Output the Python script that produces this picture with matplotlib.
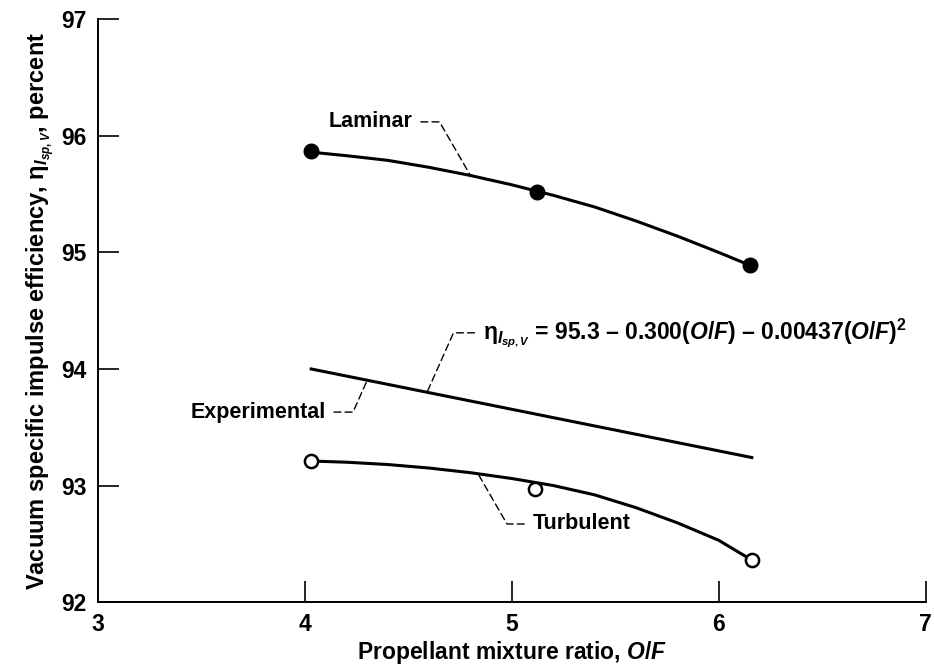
"""Vacuum specific impulse efficiency against propellant mixture ratio."""

import matplotlib

matplotlib.use("Agg")
import matplotlib.pyplot as plt

plt.rcParams.update({
    "font.family": ["Liberation Sans", "DejaVu Sans"],
    "font.weight": "bold",
    "axes.labelweight": "bold",
    "mathtext.fontset": "custom",
    "mathtext.rm": "Liberation Sans:bold",
    "mathtext.it": "Liberation Sans:italic:bold",
    "mathtext.bf": "Liberation Sans:bold",
})

# measured points
laminar_of = [4.03, 5.12, 6.15]
laminar_eff = [95.87, 95.52, 94.89]
turbulent_of = [4.03, 5.11, 6.16]
turbulent_eff = [93.21, 92.97, 92.36]

# faired curves
laminar_curve_of = [4.03, 4.2, 4.4, 4.6, 4.8, 5.0, 5.2, 5.4, 5.6, 5.8, 6.0, 6.15]
laminar_curve_eff = [95.86, 95.83, 95.79, 95.73, 95.66, 95.58, 95.49, 95.39,
                     95.27, 95.14, 95.00, 94.89]
turbulent_curve_of = [4.03, 4.2, 4.4, 4.6, 4.8, 5.0, 5.2, 5.4, 5.6, 5.8, 6.0, 6.16]
turbulent_curve_eff = [93.21, 93.20, 93.18, 93.15, 93.11, 93.06, 93.00, 92.92,
                       92.81, 92.68, 92.53, 92.36]
experimental_of = [4.03, 6.16]
experimental_eff = [94.00, 93.24]

x_ticks = [3, 4, 5, 6, 7]
y_ticks = [92, 93, 94, 95, 96, 97]

ETA = r"$\mathrm{\eta}_{I_{sp,V}}$"


def leader(ax, text, xy, xytext, ha, angle_b, size=15.5):
    ax.annotate(
        text,
        xy=xy,
        xytext=xytext,
        ha=ha,
        va="center",
        fontsize=size,
        arrowprops={
            "arrowstyle": "-",
            "linewidth": 1.0,
            "linestyle": (0, (5, 3)),
            "color": "black",
            "shrinkA": 4,
            "shrinkB": 0,
            "connectionstyle": f"angle,angleA=0,angleB={angle_b},rad=0",
        },
    )


fig = plt.figure(figsize=(9.34, 6.66), dpi=100)
ax = fig.add_axes([0.105, 0.096, 0.886, 0.875])

ax.plot(laminar_curve_of, laminar_curve_eff, color="black", linewidth=2.2)
ax.plot(turbulent_curve_of, turbulent_curve_eff, color="black", linewidth=2.2)
ax.plot(experimental_of, experimental_eff, color="black", linewidth=2.2)
ax.plot(laminar_of, laminar_eff, "o", color="black", markersize=10.5, zorder=3)
ax.plot(turbulent_of, turbulent_eff, "o", color="black", markerfacecolor="white",
        markeredgewidth=1.8, markersize=9.5, zorder=3)

leader(ax, "Laminar", (4.80, 95.66), (4.52, 96.12), "right", 120)
leader(ax, ETA + " = 95.3 \u2013 0.300($O/F$) \u2013 0.00437($O/F$)$^2$",
       (4.59, 93.80), (4.86, 94.31), "left", 66, size=16.5)
leader(ax, "Experimental", (4.30, 93.90), (4.10, 93.63), "right", 66)
leader(ax, "Turbulent", (4.84, 93.09), (5.10, 92.67), "left", 120)

ax.set_xlim(3, 7)
ax.set_ylim(92, 97)
ax.set_xticks(x_ticks)
ax.set_yticks(y_ticks)
ax.spines[["top", "right"]].set_visible(False)
for side in ("left", "bottom"):
    ax.spines[side].set_linewidth(1.4)
ax.tick_params(direction="in", length=15, width=1.2, labelsize=16.5, pad=8)

ax.set_xlabel("Propellant mixture ratio, $O/F$", fontsize=16.5, labelpad=2)
ax.set_ylabel("Vacuum specific impulse efficiency, " + ETA + ", percent",
              fontsize=17, labelpad=3)

fig.savefig("out.png", dpi=100)
